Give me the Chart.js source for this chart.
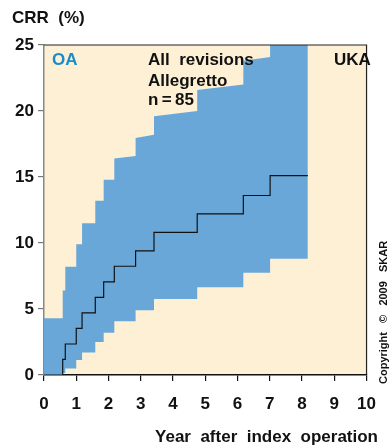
<!DOCTYPE html>
<html>
<head>
<meta charset="utf-8">
<script src="https://cdn.jsdelivr.net/npm/chart.js@4"></script>
<style>
  html, body { margin: 0; padding: 0; background: #ffffff; }
  #wrap { width: 389px; height: 447px; position: relative; }
</style>
</head>
<body>
<div id="wrap"><canvas id="crr"></canvas></div>
<script>
// Cumulative revision rate (Kaplan-Meier style step curve) with 95% CI band
const stepYears = [0, 0.58, 0.66, 1.0, 1.18, 1.59, 1.85, 2.18, 2.84, 3.41, 4.75, 6.18, 7.01];
const lastYear = 8.18;
const crrValues = [0, 1.18, 2.35, 3.53, 4.71, 5.88, 7.06, 8.24, 9.41, 10.8, 12.2, 13.6, 15.1];
const upperStart = [4.3, 6.4, 8.2, 9.9, 11.5, 13.2, 14.8, 16.4, 17.95, 19.6, 21.6, 23.8, 27];
const upperEnd   = [4.3, 6.4, 8.2, 9.9, 11.5, 13.2, 14.8, 16.6, 18.2, 20.0, 22.0, 24.1, 27];
const lowerValues = [0, 0.15, 0.5, 1.14, 1.7, 2.5, 3.2, 4.07, 4.9, 5.75, 6.65, 7.75, 8.8];
const yearTicks = [0, 1, 2, 3, 4, 5, 6, 7, 8, 9, 10];
const crrTicks = [0, 5, 10, 15, 20, 25];

// Turn per-interval values into a step path (vertical jumps at each event time)
function stepPath(starts, ends) {
  const pts = [];
  for (let i = 0; i < stepYears.length; i++) {
    const x0 = stepYears[i];
    const x1 = i + 1 < stepYears.length ? stepYears[i + 1] : lastYear;
    pts.push({ x: x0, y: starts[i] });
    pts.push({ x: x1, y: ends[i] });
  }
  return pts;
}

const BLUE = '#69a7d9';
const CREAM = '#fdf0d4';
const FONT = '"Liberation Sans", Arial, Helvetica, sans-serif';

const decor = {
  id: 'decor',
  beforeDraw(chart) {
    const { ctx, chartArea: a } = chart;
    ctx.save();
    ctx.fillStyle = CREAM;
    ctx.fillRect(a.left, a.top, a.right - a.left, a.bottom - a.top);
    ctx.restore();
  },
  afterDraw(chart) {
    const { ctx, chartArea: a } = chart;
    ctx.save();
    // top and right frame
    ctx.strokeStyle = '#222';
    ctx.lineWidth = 1.2;
    ctx.beginPath();
    ctx.moveTo(a.left, a.top);
    ctx.lineTo(a.right, a.top);
    ctx.lineTo(a.right, a.bottom);
    ctx.stroke();

    ctx.textBaseline = 'middle';
    ctx.font = 'bold 17px ' + FONT;
    ctx.fillStyle = '#111';
    ctx.textAlign = 'left';
    ctx.fillText('CRR  (%)', 12, 18);

    ctx.fillStyle = '#1a8ccd';
    ctx.fillText('OA', 52, 60);

    ctx.fillStyle = '#111';
    ctx.fillText('All  revisions', 148, 60);
    ctx.fillText('Allegretto', 148, 81);
    ctx.fillText('n\u2009=\u200985', 148, 100);
    ctx.fillText('UKA', 334, 60);

    ctx.textAlign = 'right';
    ctx.fillText('Year  after  index  operation', 378, 437);

    // rotated copyright note
    ctx.translate(384, 384);
    ctx.rotate(-Math.PI / 2);
    ctx.textAlign = 'left';
    ctx.font = 'bold 11px ' + FONT;
    ctx.fillText('Copyright   \u00a9   2009   SKAR', 0, 0);
    ctx.restore();
  }
};

new Chart(document.getElementById('crr'), {
  type: 'line',
  data: {
    datasets: [
      {
        label: 'upper',
        data: stepPath(upperStart, upperEnd),
        borderWidth: 0,
        borderColor: 'rgba(0,0,0,0)',
        pointRadius: 0,
        backgroundColor: BLUE,
        fill: '+1',
        tension: 0,
        order: 2
      },
      {
        label: 'lower',
        data: stepPath(lowerValues, lowerValues),
        borderWidth: 0,
        borderColor: 'rgba(0,0,0,0)',
        pointRadius: 0,
        fill: false,
        tension: 0,
        order: 1
      },
      {
        label: 'CRR',
        data: stepPath(crrValues, crrValues),
        borderWidth: 1.2,
        borderColor: '#111',
        pointRadius: 0,
        fill: false,
        tension: 0,
        order: 0
      }
    ]
  },
  options: {
    responsive: true,
    maintainAspectRatio: false,
    animation: false,
    events: [],
    layout: { padding: { top: 45, right: 11, left: 0, bottom: 0 } },
    plugins: {
      legend: { display: false },
      tooltip: { enabled: false },
      filler: { drawTime: 'beforeDatasetsDraw' }
    },
    scales: {
      x: {
        type: 'linear',
        min: 0, max: 10,
        afterBuildTicks(s) { s.ticks = yearTicks.map(v => ({ value: v })); },
        afterFit(s) { s.height = 72; },
        grid: { drawOnChartArea: false, tickLength: 6, color: '#111', lineWidth: 1.2 },
        border: { color: '#111', width: 1.5 },
        ticks: { color: '#111', font: { family: FONT, size: 17, weight: 'bold' }, padding: 13, maxRotation: 0 }
      },
      y: {
        min: 0, max: 25,
        afterBuildTicks(s) { s.ticks = crrTicks.map(v => ({ value: v })); },
        afterFit(s) { s.width = 44; },
        grid: { drawOnChartArea: false, tickLength: 6, color: '#777', lineWidth: 1.2 },
        border: { color: '#888', width: 1.5 },
        ticks: { color: '#111', font: { family: FONT, size: 17, weight: 'bold' }, padding: 4 }
      }
    }
  },
  plugins: [decor]
});
</script>
</body>
</html>
